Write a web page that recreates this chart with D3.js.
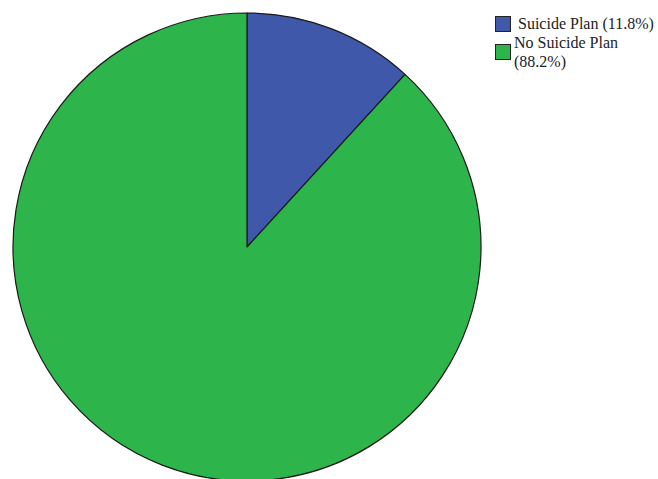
<!DOCTYPE html>
<html>
<head>
<meta charset="utf-8">
<script src="https://cdn.jsdelivr.net/npm/d3@7"></script>
<style>
  html, body { margin: 0; padding: 0; background: #fff; }
  svg { display: block; }
</style>
</head>
<body>
<svg id="chart" width="658" height="479"></svg>
<script>
// Share of respondents by suicide plan status (percent)
const categories = ["Suicide Plan", "No Suicide Plan"];
const values = [11.8, 88.2];
const colors = ["#3F58A9", "#2DB44A"];
const legendLines = [["Suicide Plan (11.8%)"], ["No Suicide Plan", "(88.2%)"]];

const svg = d3.select("#chart");
const cx = 247, cy = 247, radius = 234;

const pie = d3.pie().sort(null).value(d => d.value);
const arc = d3.arc().innerRadius(0).outerRadius(radius);
const data = categories.map((c, i) => ({ name: c, value: values[i], color: colors[i] }));

svg.append("g")
  .attr("transform", `translate(${cx},${cy})`)
  .selectAll("path")
  .data(pie(data))
  .join("path")
  .attr("d", arc)
  .attr("fill", d => d.data.color)
  .attr("stroke", "#1a1a1a")
  .attr("stroke-width", 1.2)
  .attr("stroke-linejoin", "round");

// Legend
const legend = svg.append("g").attr("font-family", "'Liberation Serif', 'Times New Roman', serif")
  .attr("font-size", 16).attr("fill", "#222");
const rows = [
  { box: 16, textX: 518, baselines: [29] },
  { box: 44, textX: 514, baselines: [48, 67] }
];
data.forEach((d, i) => {
  const g = legend.append("g");
  g.append("rect")
    .attr("x", 495.5).attr("y", rows[i].box + 0.5)
    .attr("width", 15).attr("height", 15)
    .attr("fill", d.color).attr("stroke", "#222").attr("stroke-width", 1);
  legendLines[i].forEach((t, j) => {
    g.append("text")
      .attr("x", rows[i].textX).attr("y", rows[i].baselines[j])
      .text(t);
  });
});
</script>
</body>
</html>
